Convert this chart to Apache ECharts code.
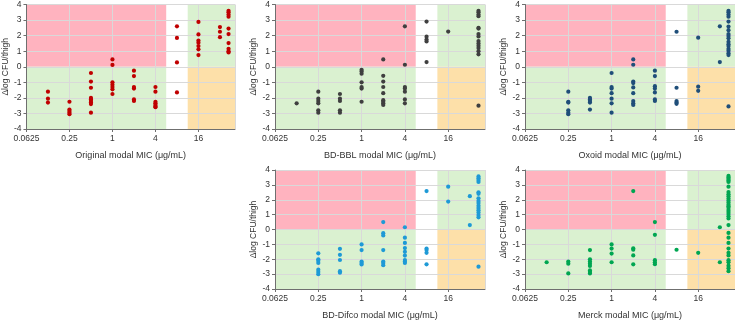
<!DOCTYPE html>
<html>
<head>
<meta charset="utf-8">
<script src="https://cdn.jsdelivr.net/npm/echarts@6/dist/echarts.min.js"></script>
<style>
  html, body { margin: 0; padding: 0; background: #fff; }
  #chart { width: 735px; height: 321px; }
</style>
</head>
<body>
<div id="chart"></div>
<script>
// x positions are log2(MIC); last column sits just past 32
const micLog2 = [-3, -2, -1, 0, 1, 2, 3, 4, 5, 5.4];
const xTicks = [-4, -2, 0, 2, 4];
const xTickLabels = ["0.0625", "0.25", "1", "4", "16"];
const yTicks = [-4, -3, -2, -1, 0, 1, 2, 3, 4];

// band edges (log2 MIC)
const susceptibleEnd = 2.5;
const resistantStart = 3.5;
const xMax = 5.7;

const originalVals = [
  [-1.6, -2.05, -2.3],
  [-2.25, -2.75, -2.85, -2.95, -3.05],
  [-0.4, -0.95, -1.35, -2.0, -2.1, -2.2, -2.3, -2.4, -2.95],
  [0.47, 0.12, -1.0, -1.15, -1.3, -1.45, -1.75],
  [-0.25, -0.6, -1.3, -1.4, -2.1, -2.2],
  [-1.3, -1.6, -2.25, -2.35, -2.45, -2.55, -2.6],
  [2.6, 1.85, 0.28, -1.65],
  [2.88, 2.08, 1.68, 1.55, 1.33, 1.12, 0.75],
  [2.55, 2.25, 1.9],
  [3.6, 3.5, 3.35, 3.22, 2.45, 2.1, 1.52, 1.15, 1.0, 0.92]
];
const bblVals = [
  [-2.35],
  [-1.6, -2.05, -2.2, -2.35, -2.8, -2.95],
  [-1.75, -2.05, -2.2, -2.8, -2.95],
  [-0.2, -0.3, -0.45, -1.0, -1.3, -1.4, -2.25],
  [0.47, -0.58, -0.95, -1.3, -1.7, -2.15, -2.25, -2.35, -2.45],
  [2.6, 0.13, -1.3, -1.4, -1.6, -2.1, -2.35],
  [2.9, 1.93, 1.75, 1.63, 0.3],
  [2.26],
  [],
  [3.6, 3.5, 3.35, 3.25, 2.5, 2.45, 2.1, 1.95, 1.65, 1.5, 1.35, 1.2, 1.0, 0.8, -2.5]
];
const oxoidVals = [
  [],
  [-1.6, -2.25, -2.3, -2.8, -2.95, -3.05],
  [-2.0, -2.1, -2.2, -2.3, -2.75],
  [-0.4, -1.3, -1.4, -1.7, -2.05, -2.35, -2.95],
  [0.47, 0.13, -0.95, -1.05, -1.33, -1.7, -2.2, -2.35, -2.45],
  [-0.25, -0.6, -1.25, -1.4, -1.65, -2.1, -2.2],
  [2.25, -1.35, -2.2, -2.3, -2.38],
  [1.87, -1.28, -1.55],
  [2.6, 0.3],
  [3.6, 3.5, 3.35, 3.22, 2.9, 2.58, 2.35, 2.1, 1.98, 1.83, 1.6, 1.45, 1.33, 1.15, 1.03, 0.87, 0.75, -2.55]
];
const difcoVals = [
  [],
  [-1.6, -2.0, -2.1, -2.25, -2.7, -2.85, -3.0],
  [-1.3, -1.7, -2.05, -2.8, -2.9],
  [-1.0, -1.38, -2.15, -2.25, -2.35],
  [0.5, -0.25, -0.4, -1.38, -2.15, -2.25, -2.4],
  [0.15, -0.55, -0.9, -1.25, -1.5, -1.75, -2.05, -2.15, -2.25],
  [2.58, -1.28, -1.38, -1.57, -2.34],
  [2.88, 1.88],
  [2.24, 0.3],
  [3.57, 3.45, 3.32, 3.2, 2.5, 2.4, 2.1, 1.92, 1.78, 1.6, 1.45, 1.3, 1.15, 0.97, 0.82, -2.5]
];
const merckVals = [
  [-2.2],
  [-2.15, -2.3, -2.95],
  [-1.38, -2.0, -2.15, -2.3, -2.45, -2.75, -2.85, -2.95],
  [-1.0, -1.28, -1.62, -2.2],
  [2.58, -1.26, -1.36, -1.74, -2.34],
  [0.5, -0.36, -2.06, -2.2, -2.33],
  [-1.36],
  [-1.57],
  [0.15, -2.2],
  [3.6, 3.5, 3.4, 3.3, 3.2, 2.88, 2.52, 2.37, 2.24, 2.09, 1.95, 1.82, 1.67, 1.56, 1.46, 1.31, 1.18,
   1.04, 0.89, 0.74, 0.3, -0.23, -0.55, -0.9, -1.28, -1.57, -1.74, -2.06, -2.21, -2.43, -2.6, -2.8]
];

const panels = [
  { name: "Original modal MIC (μg/mL)", vals: originalVals, color: "#C00000", left: 25, top: 4, height: 125 },
  { name: "BD-BBL modal MIC (μg/mL)", vals: bblVals, color: "#3F3F3F", left: 275, top: 4, height: 125 },
  { name: "Oxoid modal MIC (μg/mL)", vals: oxoidVals, color: "#1F4E79", left: 525, top: 4, height: 125 },
  { name: "BD-Difco modal MIC (μg/mL)", vals: difcoVals, color: "#1E9AD6", left: 275, top: 170, height: 124 },
  { name: "Merck modal MIC (μg/mL)", vals: merckVals, color: "#00A651", left: 525, top: 170, height: 124 }
];

const FONT = "Liberation Sans, Arial, sans-serif";
const axisColor = "#6f6f6f";
const gridColor = "#d9d9d9";

const grids = [], xAxes = [], yAxes = [], series = [];
panels.forEach((p, i) => {
  grids.push({ left: p.left, top: p.top, width: 210, height: p.height });
  xAxes.push({
    gridIndex: i, type: "value", min: -4, max: xMax, interval: 2, z: 2,
    name: p.name, nameLocation: "middle", nameGap: 22,
    nameTextStyle: { fontFamily: FONT, fontSize: 9, color: "#333" },
    axisLine: { onZero: false, lineStyle: { color: axisColor } },
    axisTick: { length: 3, lineStyle: { color: axisColor } },
    axisLabel: {
      fontFamily: FONT, fontSize: 8.5, color: "#333", margin: 5, showMaxLabel: false,
      formatter: v => { const k = xTicks.indexOf(v); return k >= 0 ? xTickLabels[k] : ""; }
    },
    splitLine: { show: true, lineStyle: { color: gridColor, width: 1 } }
  });
  yAxes.push({
    gridIndex: i, type: "value", min: yTicks[0], max: yTicks[yTicks.length - 1], interval: 1, z: 2,
    name: "Δlog CFU/thigh", nameLocation: "middle", nameGap: 15, nameRotate: 90,
    nameTextStyle: { fontFamily: FONT, fontSize: 8.5, color: "#333" },
    axisLine: { show: true, onZero: false, lineStyle: { color: axisColor } },
    axisTick: { show: true, length: 3, lineStyle: { color: axisColor } },
    axisLabel: { fontFamily: FONT, fontSize: 8.5, color: "#333", margin: 5 },
    splitLine: { show: true, lineStyle: { color: gridColor, width: 1 } }
  });
  // background bands
  series.push({
    type: "scatter", xAxisIndex: i, yAxisIndex: i, data: [], z: 1, silent: true,
    markArea: {
      silent: true,
      label: { show: false },
      data: [
        [{ coord: [-4, 0], itemStyle: { color: "#FFB3BF" } }, { coord: [susceptibleEnd, 4] }],
        [{ coord: [-4, -4], itemStyle: { color: "#DAF1D0" } }, { coord: [susceptibleEnd, 0] }],
        [{ coord: [resistantStart, 0], itemStyle: { color: "#DAF1D0" } }, { coord: [xMax, 4] }],
        [{ coord: [resistantStart, -4], itemStyle: { color: "#FDE0A9" } }, { coord: [xMax, 0] }]
      ]
    }
  });
  const pts = [];
  p.vals.forEach((col, c) => col.forEach(v => pts.push([micLog2[c], v])));
  series.push({
    type: "scatter", xAxisIndex: i, yAxisIndex: i, z: 3,
    symbolSize: 4.2, itemStyle: { color: p.color, opacity: 1 },
    data: pts
  });
});

const chart = echarts.init(document.getElementById("chart"), null, { renderer: "canvas" });
chart.setOption({
  animation: false,
  backgroundColor: "#fff",
  grid: grids, xAxis: xAxes, yAxis: yAxes, series: series
});
</script>
</body>
</html>
